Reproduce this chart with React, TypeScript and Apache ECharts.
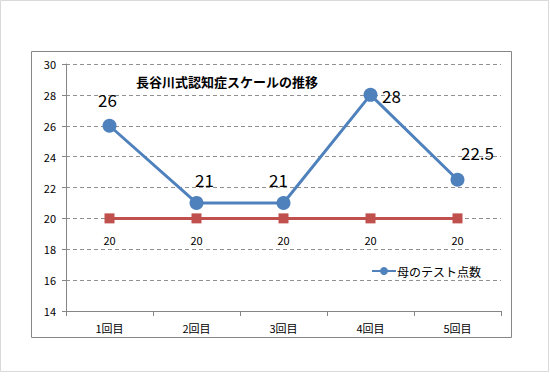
import React, { useEffect, useRef } from "react";
import * as echarts from "echarts";

const categories = ["1回目", "2回目", "3回目", "4回目", "5回目"];
const motherScores = [26, 21, 21, 28, 22.5];
const baseline = [20, 20, 20, 20, 20];
const blueLabelOffsets: [number, number][] = [[-2, -26], [8, -23], [-5, -23], [21, 1], [20, -27]];
const titleText = "長谷川式認知症スケールの推移";
const seriesName = "母のテスト点数";

const FONT = "'Noto Sans CJK JP', 'Noto Sans', sans-serif";

export default function App() {
  const ref = useRef<HTMLDivElement>(null);
  useEffect(() => {
    if (!ref.current) return;
    const chart = echarts.init(ref.current, null, { renderer: "svg" });
    chart.setOption({
      animation: false,
      backgroundColor: "#ffffff",
      textStyle: { fontFamily: FONT },
      title: {
        text: titleText,
        left: 131,
        top: 70,
        textStyle: { fontSize: 13, fontWeight: "bold", color: "#000", fontFamily: FONT },
      },
      legend: {
        data: [seriesName],
        left: 366,
        top: 260,
        itemWidth: 24,
        itemHeight: 10,
        itemGap: 2,
        textStyle: { fontSize: 12, color: "#000", fontFamily: FONT, padding: [0, 0, 0, -4] },
      },
      graphic: [
        { type: "rect", shape: { x: 0.5, y: 0.5, width: 548, height: 371 }, style: { fill: "none", stroke: "#d9d9d9", lineWidth: 1 }, silent: true },
        { type: "rect", shape: { x: 31.5, y: 51.5, width: 480, height: 286 }, style: { fill: "none", stroke: "#868686", lineWidth: 1 }, silent: true },
      ],
      grid: { left: 66, right: 49, top: 64, bottom: 69 },
      xAxis: {
        type: "category",
        data: categories,
        boundaryGap: true,
        axisLine: { lineStyle: { color: "#868686", width: 1 } },
        axisTick: { show: true, length: 5, lineStyle: { color: "#868686" }, alignWithLabel: false },
        axisLabel: { fontSize: 11, color: "#000", margin: 11, fontFamily: FONT },
      },
      yAxis: {
        type: "value",
        min: 14,
        max: 30,
        interval: 2,
        axisLine: { show: true, lineStyle: { color: "#868686", width: 1 } },
        axisTick: { show: true, length: 4, lineStyle: { color: "#868686" } },
        axisLabel: { fontSize: 11, color: "#000", margin: 10, fontFamily: FONT },
        splitLine: { show: true, lineStyle: { color: "#909090", type: [4, 3], width: 1 } },
      },
      series: [
        {
          name: "基準",
          type: "line",
          data: baseline,
          symbol: "rect",
          symbolSize: 10,
          itemStyle: { color: "#C0504D" },
          lineStyle: { color: "#C0504D", width: 3 },
          label: {
            show: true,
            position: "bottom",
            distance: 11,
            fontSize: 11,
            color: "#000",
            fontFamily: FONT,
          },
          z: 2,
        },
        {
          name: seriesName,
          type: "line",
          data: motherScores.map((v, i) => ({
            value: v,
            label: { offset: blueLabelOffsets[i] },
          })),
          symbol: "circle",
          symbolSize: 14,
          itemStyle: { color: "#4F81BD" },
          lineStyle: { color: "#4F81BD", width: 3 },
          label: {
            show: true,
            position: "inside",
            fontSize: 17,
            color: "#000",
            fontFamily: FONT,
          },
          z: 3,
        },
      ],
    });
    return () => chart.dispose();
  }, []);
  return (
    <div
      ref={ref}
      style={{ position: "fixed", left: 0, top: 0, width: 550, height: 380 }}
    />
  );
}
